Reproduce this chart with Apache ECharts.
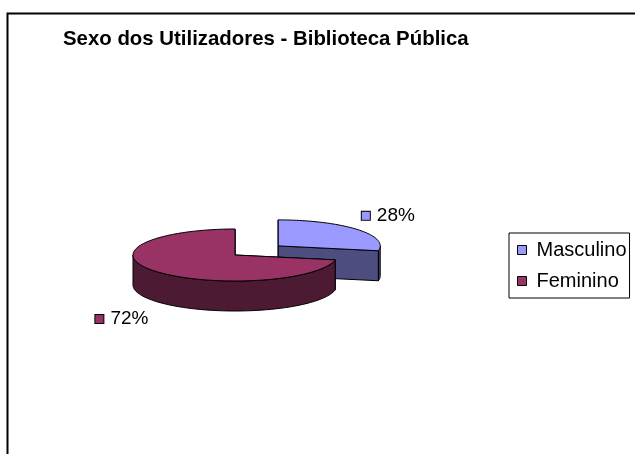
<!DOCTYPE html>
<html>
<head>
<meta charset="utf-8">
<script src="https://cdn.jsdelivr.net/npm/echarts@6/dist/echarts.min.js"></script>
<style>
  html, body { margin: 0; padding: 0; background: #fff; }
  #chart { width: 635px; height: 454px; }
</style>
</head>
<body>
<div id="chart"></div>
<script>
var chartTitle = 'Sexo dos Utilizadores - Biblioteca Pública';
var categories = ['Masculino', 'Feminino'];
var values = [28, 72];
var topColors = ['#9999ff', '#993366'];
var sideColors = ['#4d4d80', '#4d1a33'];
var explode = [0.55, 0];

var FONT = '"Liberation Sans", Arial, sans-serif';

// pie geometry (pixels)
var cx = 235, cy = 255, rx = 102, ry = 26, depth = 30;

var total = values.reduce(function (a, b) { return a + b; }, 0);

function rim(a, ox, oy, dz) {
    return [ox + rx * Math.sin(a), oy - ry * Math.cos(a) + (dz || 0)];
}

function arcPoints(a0, a1, ox, oy, dz) {
    var pts = [];
    var n = Math.max(2, Math.ceil(Math.abs(a1 - a0) / 0.03));
    for (var k = 0; k <= n; k++) {
        pts.push(rim(a0 + (a1 - a0) * k / n, ox, oy, dz));
    }
    return pts;
}

function makeRender(i) {
    return function (params, api) {
        var before = 0;
        for (var j = 0; j < i; j++) before += values[j];
        var v = api.value(0);
        var a0 = before / total * Math.PI * 2;
        var a1 = (before + v) / total * Math.PI * 2;
        var m = (a0 + a1) / 2;
        var ox = cx + rx * Math.sin(m) * explode[i];
        var oy = cy - ry * Math.cos(m) * explode[i];
        var line = { stroke: '#000', lineWidth: 1 };
        var children = [];

        // radial faces
        [a0, a1].forEach(function (a) {
            var p = rim(a, ox, oy);
            children.push({
                type: 'polygon',
                shape: { points: [[ox, oy], p, [p[0], p[1] + depth], [ox, oy + depth]] },
                style: Object.assign({ fill: sideColors[i] }, line)
            });
        });

        // outer wall, front half only
        var s = Math.max(a0, Math.PI / 2), e = Math.min(a1, Math.PI * 1.5);
        if (e > s) {
            var topArc = arcPoints(s, e, ox, oy, 0);
            var botArc = arcPoints(e, s, ox, oy, depth);
            children.push({
                type: 'polygon',
                shape: { points: topArc.concat(botArc) },
                style: Object.assign({ fill: sideColors[i] }, line)
            });
        }

        // top face
        children.push({
            type: 'polygon',
            shape: { points: [[ox, oy]].concat(arcPoints(a0, a1, ox, oy, 0)) },
            style: Object.assign({ fill: topColors[i] }, line)
        });

        // data label
        var front = Math.cos(m) < 0;
        var anc = rim(m, ox, oy, front ? depth : 0);
        var right = Math.sin(m) > 0;
        children.push({
            type: 'text',
            style: {
                x: right ? anc[0] + 5 : anc[0] - 8,
                y: front ? anc[1] + 8 : anc[1] - 4,
                align: right ? 'left' : 'right',
                verticalAlign: front ? 'top' : 'bottom',
                text: '{m|}{t|' + Math.round(v / total * 100) + '%}',
                rich: {
                    m: { width: 8, height: 8, backgroundColor: topColors[i], borderColor: '#000', borderWidth: 1 },
                    t: { fontSize: 19, fontFamily: FONT, fill: '#000', padding: [0, 0, 0, 7] }
                }
            }
        });

        return { type: 'group', children: children };
    };
}

var series = categories.map(function (name, i) {
    return {
        type: 'custom',
        name: name,
        coordinateSystem: 'none',
        silent: true,
        itemStyle: { color: topColors[i] },
        data: [[values[i]]],
        renderItem: makeRender(i)
    };
});

var chart = echarts.init(document.getElementById('chart'), null, { renderer: 'canvas' });
chart.setOption({
    animation: false,
    backgroundColor: '#fff',
    title: {
        text: chartTitle,
        left: 63,
        top: 29,
        padding: 0,
        textStyle: { fontSize: 20.4, fontWeight: 'bold', fontFamily: FONT, color: '#000' }
    },
    legend: {
        orient: 'vertical',
        left: 509,
        top: 233,
        padding: [7, 3, 7, 8],
        itemGap: 11,
        itemWidth: 9,
        itemHeight: 9,
        icon: 'rect',
        borderColor: '#000',
        borderWidth: 1,
        itemStyle: { borderColor: '#000', borderWidth: 1 },
        textStyle: { fontSize: 20, lineHeight: 20, fontFamily: FONT, color: '#000', padding: [0, 0, 0, 5] },
        data: categories
    },
    graphic: [{
        type: 'rect',
        left: 5,
        top: 11,
        silent: true,
        shape: { width: 700, height: 520 },
        style: { fill: null, stroke: '#000', lineWidth: 2 }
    }],
    series: series
});
</script>
</body>
</html>
